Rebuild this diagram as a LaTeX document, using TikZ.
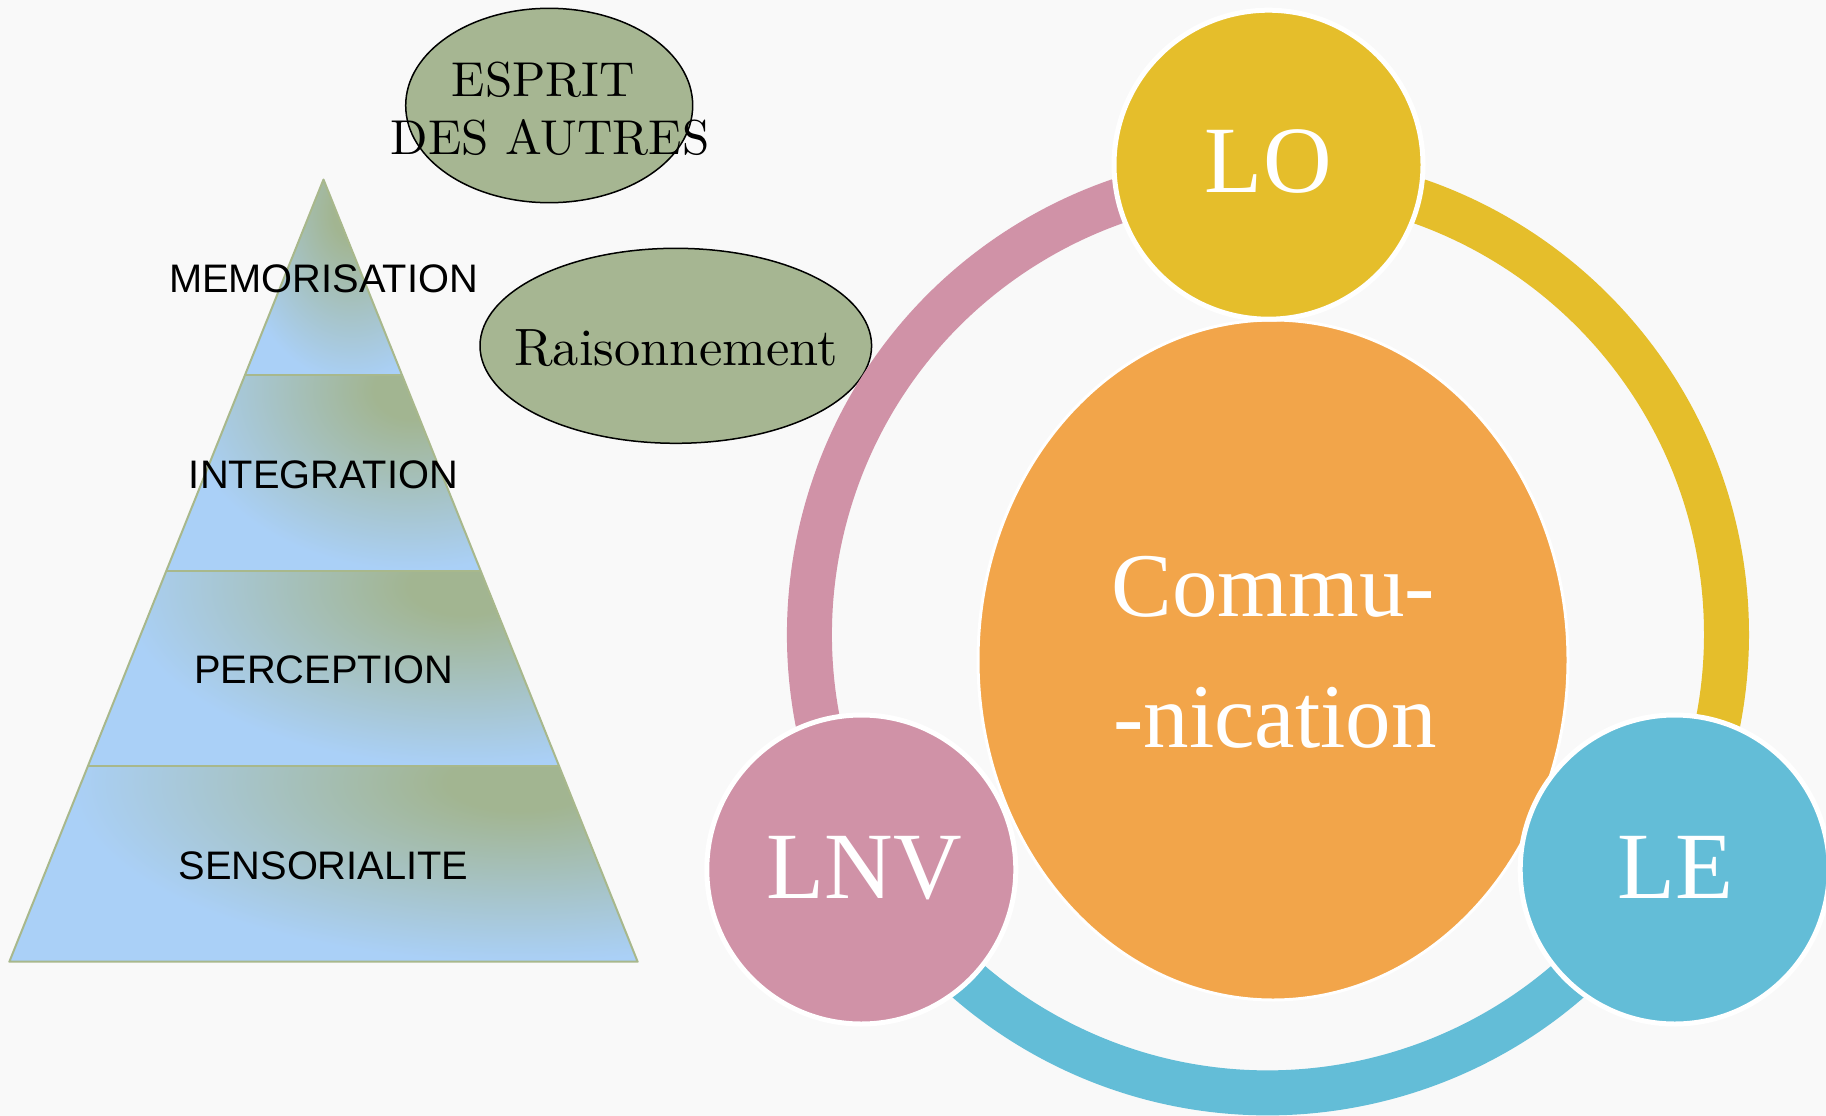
\documentclass[tikz,border=0pt]{standalone}
\usepackage{fontspec}
\newfontfamily\sansf{Liberation Sans}
\newfontfamily\seriff{Liberation Serif}
\newfontfamily\lmten[Extension=.otf]{lmroman10-regular}
\usetikzlibrary{shapes.geometric}
\definecolor{bgc}{RGB}{249,249,249}
\definecolor{pblue}{RGB}{170,208,247}
\definecolor{pgreen}{RGB}{162,181,145}
\definecolor{pline}{RGB}{168,184,140}
\definecolor{ellc}{RGB}{166,182,146}
\definecolor{loc}{RGB}{229,190,43}
\definecolor{lnvc}{RGB}{208,146,167}
\definecolor{lec}{RGB}{99,189,215}
\definecolor{comc}{RGB}{242,165,74}
\pgfdeclareradialshading{pyrshade}{\pgfpoint{0bp}{0bp}}{color(0bp)=(pgreen); color(4bp)=(pgreen); color(25bp)=(pblue); color(50bp)=(pblue)}
\begin{document}
\begin{tikzpicture}[x=1pt,y=-1pt,
  pyrlabel/.style={font={\sansf\fontsize{39.8}{47}\selectfont}, text=black, inner sep=0},
  ellbox/.style={ellipse, draw=black, line width=1.5pt, fill=ellc, inner sep=0},
  elltext/.style={font={\lmten\fontsize{49}{57}\selectfont}, inner sep=0, anchor=base},
  bubble/.style={circle, minimum size=309pt, inner sep=0, outer sep=0, draw=white, line width=5pt},
  bubtext/.style={font={\seriff\fontsize{95}{100}\selectfont}, text=white, inner sep=0, anchor=base},
  commtext/.style={font={\seriff\fontsize{91}{100}\selectfont}, text=white, inner sep=0, anchor=base},
  ringseg/.style={line width=45pt},
  pyredge/.style={draw=pline, line width=2pt, line join=round}]
\fill[bgc] (0,0) rectangle (1826,1116);
\useasboundingbox (0,0) rectangle (1826,1116);

% ---------- pyramid ----------
\begin{scope}
\clip (323.5,179.5) -- (402.04,375.05) -- (244.96,375.05) -- cycle;
\fill[pblue] (0,0) rectangle (700,1000);
\shade[shading=pyrshade] (352,212) ellipse (120 and 170);
\end{scope}
\begin{scope}
\clip (244.96,375.05) -- (402.04,375.05) -- (480.58,570.6) -- (166.42,570.6) -- cycle;
\fill[pblue] (0,0) rectangle (700,1000);
\shade[shading=pyrshade] (412,390) ellipse (235 and 180);
\end{scope}
\begin{scope}
\clip (166.42,570.6) -- (480.58,570.6) -- (559.1,766.15) -- (87.9,766.15) -- cycle;
\fill[pblue] (0,0) rectangle (700,1000);
\shade[shading=pyrshade] (465,586) ellipse (345 and 180);
\end{scope}
\begin{scope}
\clip (87.9,766.15) -- (559.1,766.15) -- (637.65,961.7) -- (9.35,961.7) -- cycle;
\fill[pblue] (0,0) rectangle (700,1000);
\shade[shading=pyrshade] (520,782) ellipse (450 and 180);
\end{scope}
\draw[pyredge] (323.5,179.5) -- (637.65,961.7) -- (9.35,961.7) -- cycle;
\draw[pyredge] (244.96,375.05) -- (402.04,375.05);
\draw[pyredge] (166.42,570.6) -- (480.58,570.6);
\draw[pyredge] (87.9,766.15) -- (559.1,766.15);

\node[pyrlabel] (mem) at (323.5,279) {MEMORISATION};
\node[pyrlabel] (integ) at (323.5,475) {INTEGRATION};
\node[pyrlabel] (perc) at (323.5,670) {PERCEPTION};
\node[pyrlabel] (sens) at (323.5,866) {SENSORIALITE};

% ---------- ellipses ----------
\node[ellbox, minimum width=287pt, minimum height=194.4pt] (esprit) at (549.2,105.5) {};
\node[elltext] (esp1) at (543.3,96.7) {ESPRIT};
\node[elltext] (esp2) at (550,154) {DES AUTRES};
\node[ellbox, minimum width=391.6pt, minimum height=195pt] (rais) at (675.8,345.8) {};
\node[elltext, font={\lmten\fontsize{52.5}{60}\selectfont}] (raistxt) at (676,365) {Raisonnement};

% ---------- cycle ----------
\coordinate (rc) at (1268,634.3);
\draw[lnvc, ringseg] (rc) ++(210:458.5pt) arc[start angle=210, end angle=90, radius=458.5pt];
\draw[loc, ringseg] (rc) ++(90:458.5pt) arc[start angle=90, end angle=-30, radius=458.5pt];
\draw[lec, ringseg] (rc) ++(-30:458.5pt) arc[start angle=-30, end angle=-150, radius=458.5pt];

\node[ellipse, fill=comc, draw=white, line width=3pt, minimum width=590pt, minimum height=680pt, inner sep=0] (comm) at (1273,660) {};
\node[commtext] (comm1) at (1273.3,616.7) {Commu-};
\node[commtext] (comm2) at (1275,747.3) {-nication};

\node[bubble, fill=loc] (lo) at (1268.5,164.7) {};
\node[bubble, fill=lnvc] (lnv) at (861.3,869.5) {};
\node[bubble, fill=lec] (le) at (1674.7,869.5) {};
\node[bubtext] (lotxt) at (1268.3,192.7) {LO};
\node[bubtext] (lnvtxt) at (864.5,898.3) {LNV};
\node[bubtext] (letxt) at (1675.7,898.3) {LE};
\end{tikzpicture}
\end{document}
